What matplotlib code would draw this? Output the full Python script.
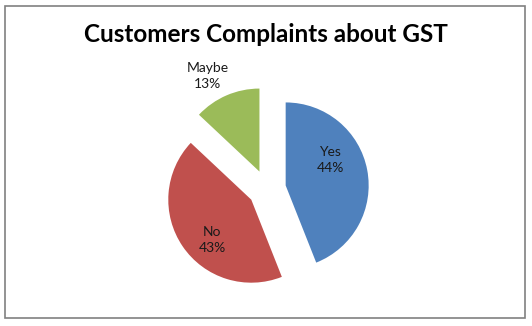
import matplotlib
matplotlib.use("Agg")
import matplotlib.pyplot as plt
from matplotlib.patches import Rectangle

categories = ["Yes", "No", "Maybe"]
shares = [44, 43, 13]
colors = ["#4F81BD", "#C0504D", "#9BBB59"]

W, H = 532, 326
fig = plt.figure(figsize=(W / 100, H / 100), dpi=100)
ax = fig.add_axes([0, 0, 1, 1])

# pie drawn in pixel-sized data units; explode is an absolute offset
cx, cy, r = 267, 137, 83
ax.pie(shares, colors=colors, startangle=90, counterclock=False,
       explode=[19] * len(shares), center=(cx, cy), radius=r,
       wedgeprops=dict(linewidth=0))

ax.set_xlim(0, W)
ax.set_ylim(0, H)
ax.set_aspect("equal")
ax.axis("off")

# data labels
label_pos = {"Yes": (330, 166), "No": (212, 86), "Maybe": (207.5, 250)}
for name, val in zip(categories, shares):
    x, y = label_pos[name]
    ax.text(x, y, f"{name}\n{val}%", ha="center", va="center",
            fontsize=10, family="Lato", linespacing=1.45, color="#1a1a1a")

ax.text(W / 2, 292, "Customers Complaints about GST", ha="center", va="center",
        fontsize=17.5, fontweight="bold", family="Lato", color="black")

ax.add_patch(Rectangle((4.5, 8), 520, 312, fill=False, edgecolor="#808080",
                       linewidth=1.2))

fig.savefig("out.png", dpi=100)
